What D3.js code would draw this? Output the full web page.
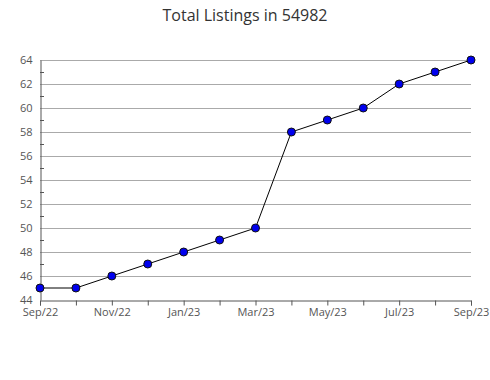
<!DOCTYPE html>
<html><head><meta charset="utf-8">
<script src="https://cdn.jsdelivr.net/npm/d3@7"></script>
<style>body{margin:0;background:#fff}svg{display:block}</style>
</head><body>
<svg id="c" width="490" height="380"></svg>
<script>
const title = "Total Listings in 54982";
const months = ["Sep/22","Oct/22","Nov/22","Dec/22","Jan/23","Feb/23","Mar/23","Apr/23","May/23","Jun/23","Jul/23","Aug/23","Sep/23"];
const values = [45,45,46,47,48,49,50,58,59,60,62,63,64];
const yTicks = [44,46,48,50,52,54,56,58,60,62,64];
const yMinor = [45,47,49,51,53,55,57,59,61,63];

const svg = d3.select("#c");
const font = "'Open Sans', sans-serif";
const m = {l:40, r:471, t:60, b:300};
const x = d3.scalePoint().domain(months).range([m.l, m.r]);
const y = d3.scaleLinear().domain([44,64]).range([m.b, m.t]);

svg.append("text").attr("x",245).attr("y",21).attr("text-anchor","middle")
  .attr("font-family",font).attr("font-size",16).attr("fill","#333").text(title);

// gridlines
svg.append("g").selectAll("line").data(yTicks.filter(v=>v>44)).join("line")
  .attr("x1",m.l).attr("x2",m.r).attr("y1",d=>y(d)+0.5).attr("y2",d=>y(d)+0.5)
  .attr("stroke","#aaa").attr("stroke-width",1);

// y axis
const ya = svg.append("g").attr("transform",`translate(${m.l+0.5},0)`)
  .call(d3.axisLeft(y).tickValues(yTicks).tickSize(0).tickPadding(8).tickFormat(d3.format("d")));
ya.select(".domain").attr("stroke","#555");
ya.selectAll("text").attr("font-family",font).attr("font-size",11).attr("fill","#555");
svg.append("g").selectAll("line").data(yMinor).join("line")
  .attr("x1",m.l).attr("x2",m.l+4).attr("y1",d=>Math.round(y(d))+0.5).attr("y2",d=>Math.round(y(d))+0.5)
  .attr("stroke","#555");

// x axis
const xa = svg.append("g").attr("transform",`translate(0,${m.b+0.5})`)
  .call(d3.axisBottom(x).tickSize(5).tickPadding(3).tickFormat((d,i)=>i%2===0?d:""));
xa.select(".domain").attr("stroke","#555");
xa.selectAll(".tick line").attr("stroke","#555");
xa.selectAll("text").attr("font-family",font).attr("font-size",11).attr("fill","#555");

// line
svg.append("path").datum(values)
  .attr("d", d3.line().x((d,i)=>x(months[i])).y(d=>y(d)))
  .attr("fill","none").attr("stroke","#000").attr("stroke-width",1);

svg.append("g").selectAll("circle").data(values).join("circle")
  .attr("cx",(d,i)=>x(months[i])).attr("cy",d=>y(d)).attr("r",4)
  .attr("fill","#0000ee").attr("stroke","#111").attr("stroke-width",1);
</script>
</body></html>
